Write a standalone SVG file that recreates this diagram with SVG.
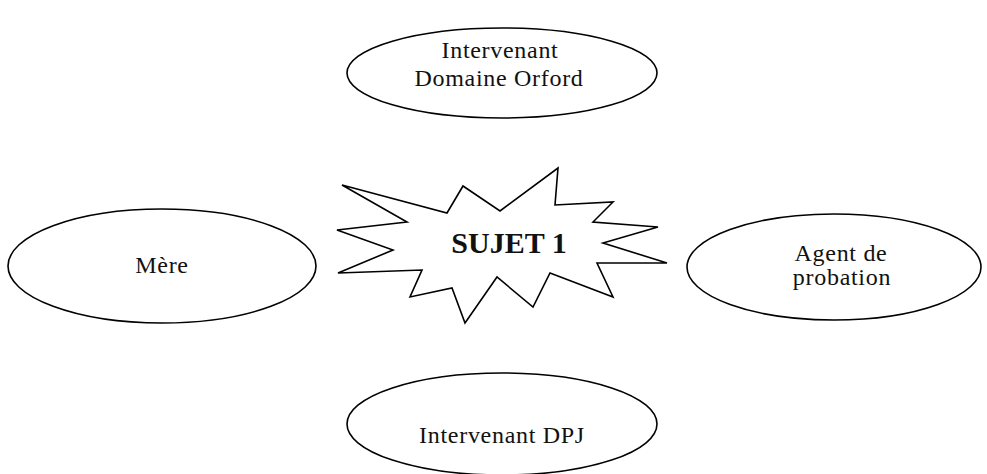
<svg xmlns="http://www.w3.org/2000/svg" width="987" height="474" viewBox="0 0 987 474">
<style>
.shape{fill:#fff;stroke:#000;stroke-width:1.6}
.t{font-family:"Liberation Serif","Times New Roman",serif;font-size:24px;fill:#111;text-anchor:middle;letter-spacing:0.7px}
.b{font-family:"Liberation Serif","Times New Roman",serif;font-size:30px;font-weight:bold;fill:#111;text-anchor:middle}
</style>
<rect width="987" height="474" fill="#fff"/>
<g id="connectors"></g>
<g id="top">
<ellipse class="shape" cx="502" cy="73" rx="155" ry="45"/>
<text class="t" x="500" y="58">Intervenant</text>
<text class="t" x="499" y="86">Domaine Orford</text>
</g>
<g id="left">
<ellipse class="shape" cx="162" cy="266" rx="154" ry="57"/>
<text class="t" x="162" y="273">Mère</text>
</g>
<g id="right">
<ellipse class="shape" cx="834" cy="267" rx="147" ry="53"/>
<text class="t" x="841" y="261">Agent de</text>
<text class="t" x="842" y="285">probation</text>
</g>
<g id="bottom">
<ellipse class="shape" cx="502" cy="424" rx="155" ry="51"/>
<text class="t" x="502" y="443">Intervenant DPJ</text>
</g>
<g id="center">
<polygon class="shape" points="342,185 447,213 463,186 500,211 558,168 555,205 613,202 593,222 658,227 603,243 667,263 597,263 613,297 550,273 533,307 497,277 465,323 452,288 410,297 422,270 338,273 393,250 337,230 407,222"/>
<text class="b" x="509" y="253">SUJET 1</text>
</g>
</svg>
